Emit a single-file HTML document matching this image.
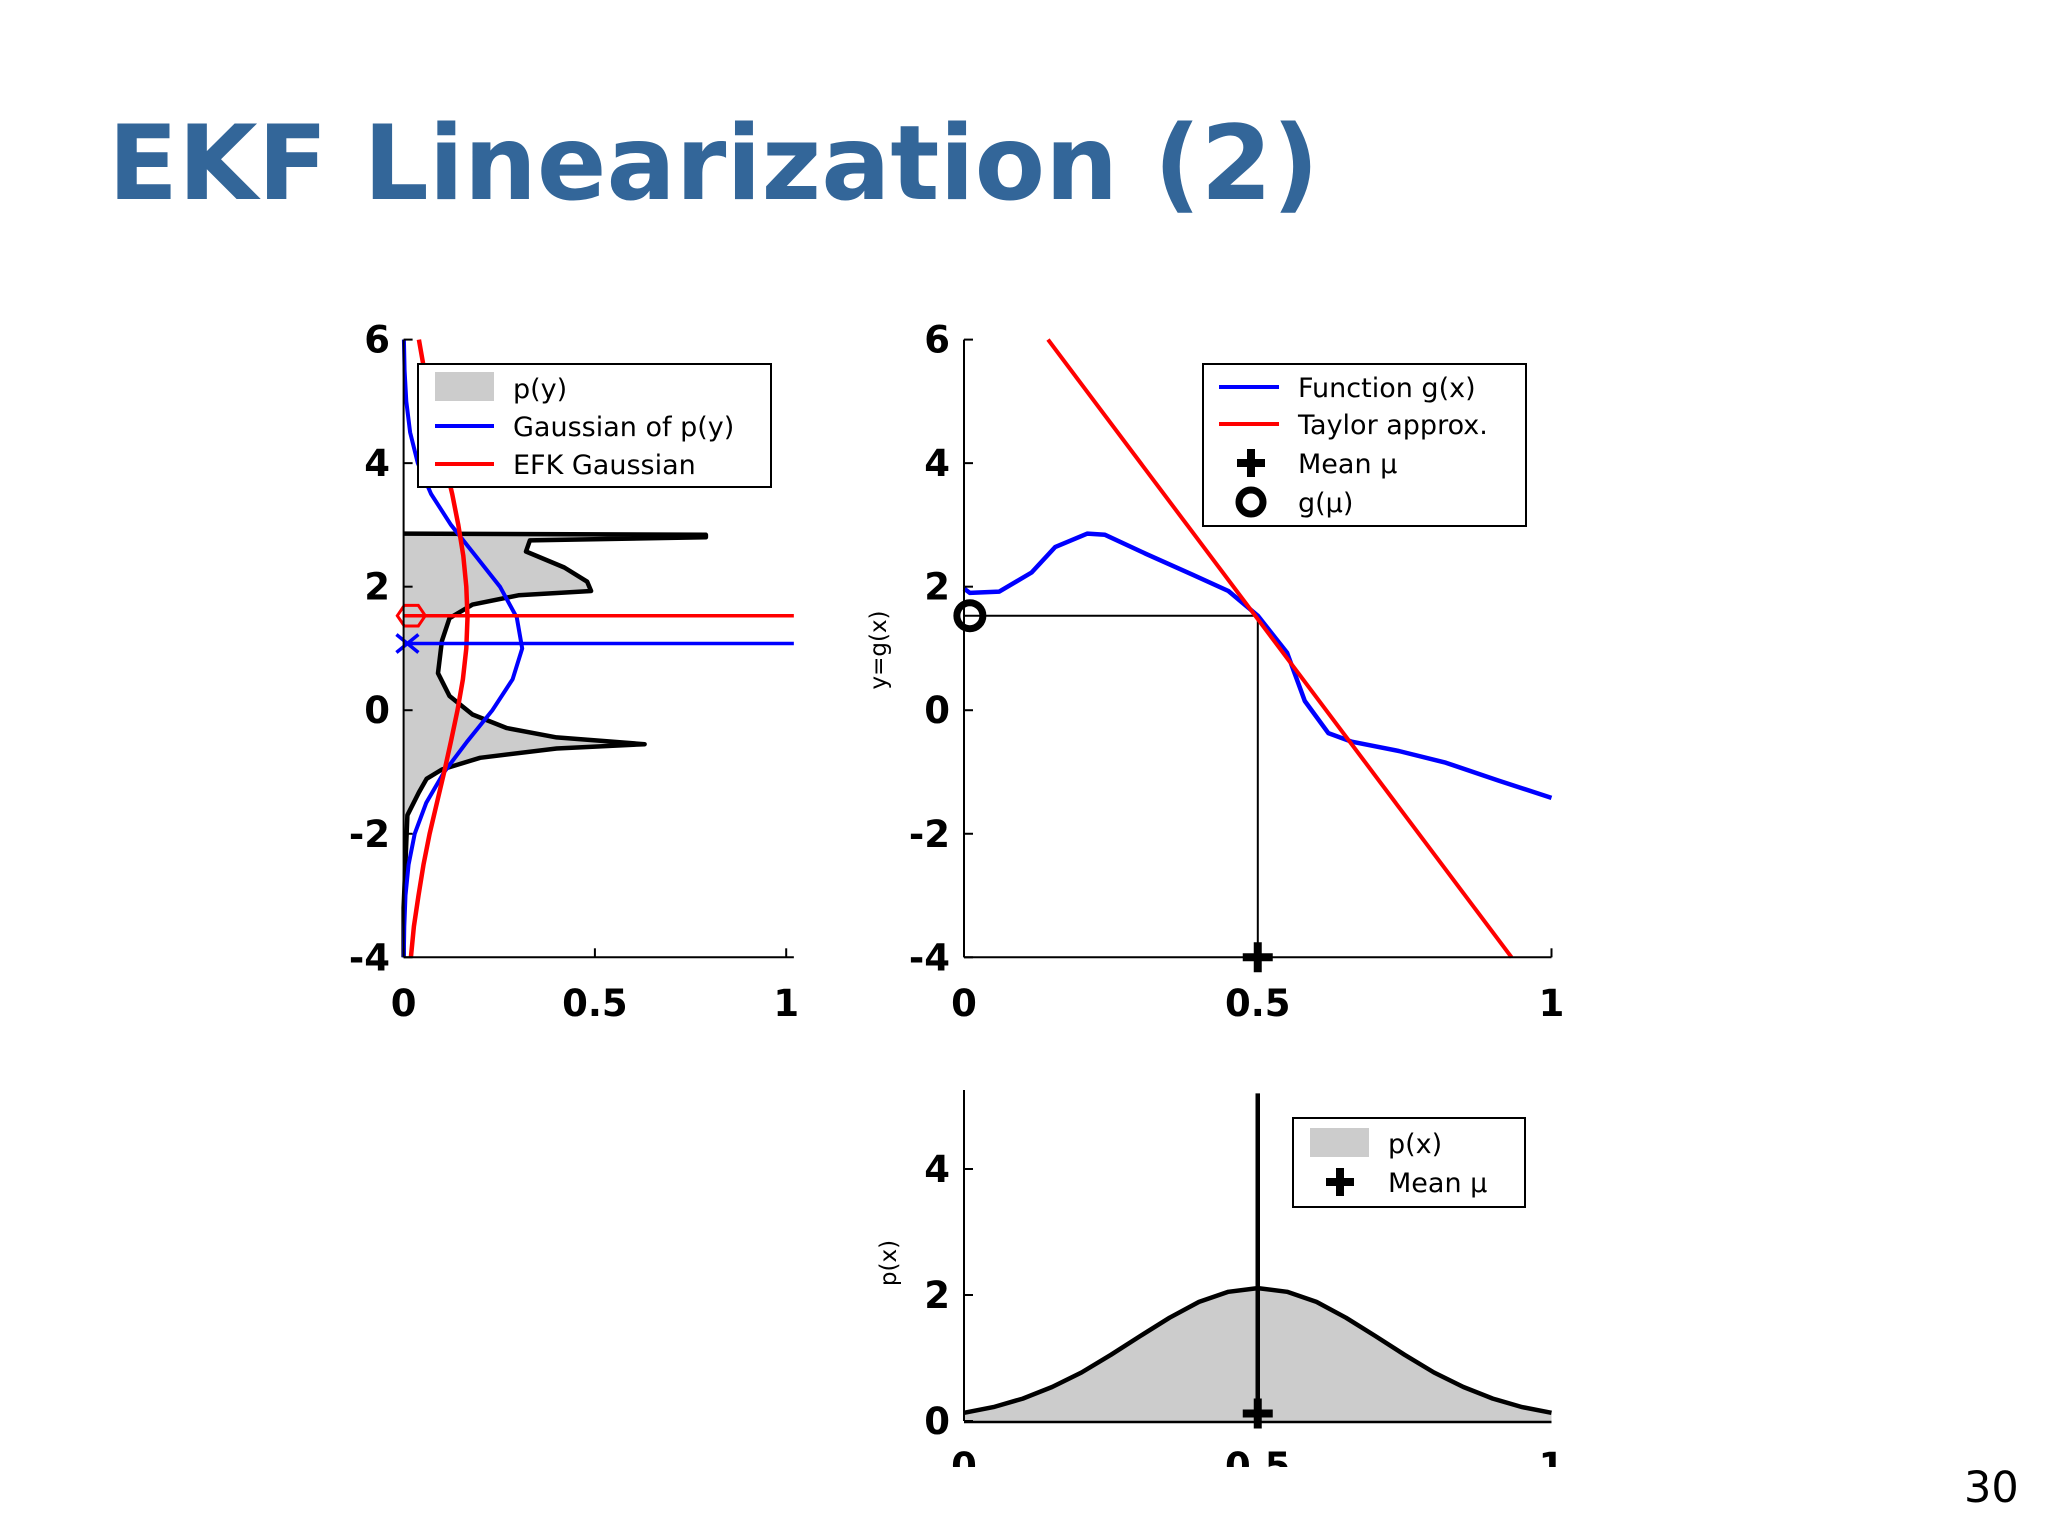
<!DOCTYPE html>
<html><head><meta charset="utf-8"><style>
html,body{margin:0;padding:0;background:#fff;}
svg{display:block;}
text{font-family:"DejaVu Sans",sans-serif;}
.tick{font-weight:bold;font-size:37px;fill:#000;}
.leg{font-size:27px;fill:#000;}
</style></head><body>
<svg id="s" width="2048" height="1536" viewBox="0 0 2048 1536" xmlns="http://www.w3.org/2000/svg">
<text x="108" y="199" textLength="1211" lengthAdjust="spacingAndGlyphs" style="font-family:'DejaVu Sans',sans-serif;font-weight:bold;font-size:103px;fill:#336699">EKF Linearization (2)</text>
<text x="1964" y="1502" style="font-family:'DejaVu Sans',sans-serif;font-size:43px;fill:#000">30</text>
<defs><clipPath id="botclip"><rect x="0" y="0" width="2048" height="1467"/></clipPath></defs>
<g id="left"></g>
<g id="mid"></g>
<g id="bot" clip-path="url(#botclip)"></g>
</svg>
<script>
// ---- left chart data (p(y) as function of y) ----
const pyY = [-4,-3.2,-1.7,-1.33,-1.11,-0.96,-0.77,-0.62,-0.55,-0.44,-0.29,-0.07,0.23,0.6,1.12,1.49,1.71,1.86,1.93,2.08,2.31,2.57,2.75,2.8,2.84,2.86];
const pyV = [0,0,0.01,0.04,0.06,0.1,0.2,0.4,0.63,0.4,0.27,0.18,0.12,0.09,0.1,0.12,0.18,0.3,0.49,0.48,0.42,0.32,0.33,0.79,0.79,0];
const gaussY = [-4,-3.5,-3,-2.5,-2,-1.5,-1,-0.5,0,0.5,1,1.5,2,2.5,3,3.5,4,4.5,5,5.5,6];
const gaussBlue = [0.0005,0.0017,0.005,0.013,0.029,0.059,0.106,0.167,0.232,0.285,0.31,0.296,0.252,0.188,0.124,0.072,0.037,0.017,0.007,0.0025,0.0007];
const gaussRed = [0.019,0.027,0.039,0.052,0.068,0.087,0.106,0.124,0.141,0.155,0.164,0.167,0.164,0.156,0.143,0.127,0.108,0.089,0.071,0.054,0.04];
const blueMean = 1.08, redMean = 1.53;
const leftXTicks = [0,0.5,1], leftXTickLabels = ["0","0.5","1"];
const yTicks = [-4,-2,0,2,4,6], yTickLabels = ["-4","-2","0","2","4","6"];
// ---- middle chart data ----
const gX = [0,0.01,0.06,0.115,0.155,0.21,0.24,0.31,0.39,0.45,0.5,0.55,0.58,0.62,0.66,0.74,0.82,0.91,1];
const gY = [1.97,1.9,1.92,2.23,2.64,2.86,2.84,2.53,2.19,1.93,1.53,0.93,0.15,-0.37,-0.51,-0.66,-0.85,-1.14,-1.42];
const taylorX = [0.143,0.932], taylorY = [6,-4];
const mu = 0.5, gmu = 1.53;
const midXTicks = [0,0.5,1], midXTickLabels = ["0","0.5","1"];
// ---- bottom chart data ----
const pxX = [0,0.05,0.1,0.15,0.2,0.25,0.3,0.35,0.4,0.45,0.5,0.55,0.6,0.65,0.7,0.75,0.8,0.85,0.9,0.95,1];
const pxV = [0.13,0.22,0.355,0.54,0.77,1.05,1.35,1.64,1.89,2.05,2.11,2.05,1.89,1.64,1.35,1.05,0.77,0.54,0.355,0.22,0.13];
const botYTicks = [0,2,4], botYTickLabels = ["0","2","4"];

const NS="http://www.w3.org/2000/svg";
function mk(parent,tag,attrs){const e=document.createElementNS(NS,tag);for(const k in attrs)e.setAttribute(k,attrs[k]);parent.appendChild(e);return e;}
function poly(pts){return pts.map(p=>p[0].toFixed(1)+","+p[1].toFixed(1)).join(" ");}
const Ytop=339.6, Yunit=61.77;
function plus(g,x,y,a,w){return mk(g,'path',{d:`M${x-a},${y}H${x+a}M${x},${y-a}V${y+a}`,stroke:'#000','stroke-width':w});}

// ===== LEFT =====
(function(){
const g=document.getElementById('left');
const X=v=>403.6+v*382.6, Y=v=>Ytop+(6-v)*Yunit;
let pts=pyY.map((y,i)=>[X(pyV[i]),Y(y)]);
let area=mk(g,'polygon',{points:poly([[X(0),Y(-4)],...pts,[X(0),Y(2.86)]]),fill:'#cccccc',stroke:'none'});


let cur=mk(g,'polyline',{points:poly(pts),fill:'none',stroke:'#000','stroke-width':4.5,'stroke-linejoin':'round'});


let bl=mk(g,'polyline',{points:poly(gaussY.map((y,i)=>[X(gaussBlue[i]),Y(y)])),fill:'none',stroke:'#0000ff','stroke-width':4});


let rd=mk(g,'polyline',{points:poly(gaussY.map((y,i)=>[X(gaussRed[i]),Y(y)])),fill:'none',stroke:'#ff0000','stroke-width':4.5});


let rl=mk(g,'line',{x1:X(0),y1:Y(redMean),x2:X(1.02),y2:Y(redMean),stroke:'#ff0000','stroke-width':3.5});


let bll=mk(g,'line',{x1:X(0),y1:Y(blueMean),x2:X(1.02),y2:Y(blueMean),stroke:'#0000ff','stroke-width':3.5});


const cx=X(0.02),cy=Y(redMean),r=14;
let hp=[];for(let k=0;k<6;k++){const a=Math.PI/3*k;hp.push([cx+r*Math.cos(a),cy+r*0.85*Math.sin(a)]);}
let hx=mk(g,'polygon',{points:poly(hp),fill:'none',stroke:'#ff0000','stroke-width':3});


const bx=X(0.01),by=Y(blueMean);
let xm=mk(g,'path',{d:`M${bx-11},${by-9}L${bx+11},${by+9}M${bx-11},${by+9}L${bx+11},${by-9}`,stroke:'#0000ff','stroke-width':3.5});


let ya=mk(g,'line',{x1:X(0),y1:Y(6),x2:X(0),y2:Y(-4),stroke:'#000','stroke-width':2});


let xa=mk(g,'line',{x1:X(0),y1:Y(-4),x2:X(1.02),y2:Y(-4),stroke:'#000','stroke-width':2});


yTicks.forEach((t,i)=>{mk(g,'line',{x1:X(0),y1:Y(t),x2:X(0)+9,y2:Y(t),stroke:'#000','stroke-width':2});
 let tx=mk(g,'text',{x:390,y:Y(t)+13,'text-anchor':'end',class:'tick'});tx.textContent=yTickLabels[i];
 
 });
leftXTicks.forEach((t,i)=>{mk(g,'line',{x1:X(t),y1:Y(-4),x2:X(t),y2:Y(-4)-9,stroke:'#000','stroke-width':2});
 let tx=mk(g,'text',{x:X(t),y:1016,'text-anchor':'middle',class:'tick'});tx.textContent=leftXTickLabels[i];
 
 });
let lg=mk(g,'g',{});


mk(lg,'rect',{x:418,y:364,width:353,height:123,fill:'#fff',stroke:'#000','stroke-width':2});
mk(lg,'rect',{x:435,y:372,width:59,height:29,fill:'#cccccc'});
mk(lg,'line',{x1:435,y1:426,x2:494,y2:426,stroke:'#0000ff','stroke-width':4});
mk(lg,'line',{x1:435,y1:464,x2:494,y2:464,stroke:'#ff0000','stroke-width':4});
[["p(y)",388],["Gaussian of p(y)",426],["EFK Gaussian",464]].forEach(([s,y])=>{let t=mk(lg,'text',{x:513,y:y+10,class:'leg'});t.textContent=s;
 
 });
})();

// ===== MIDDLE =====
(function(){
const g=document.getElementById('mid');
const X=v=>964+v*587.5, Y=v=>Ytop+(6-v)*Yunit;
let ln1=mk(g,'polyline',{points:poly([[X(0),Y(gmu)],[X(mu),Y(gmu)],[X(mu),Y(-4)]]),fill:'none',stroke:'#000','stroke-width':2});


let gl=mk(g,'polyline',{points:poly(gX.map((x,i)=>[X(x),Y(gY[i])])),fill:'none',stroke:'#0000ff','stroke-width':4.5,'stroke-linejoin':'round'});


let tl=mk(g,'line',{x1:X(taylorX[0]),y1:Y(taylorY[0]),x2:X(taylorX[1]),y2:Y(taylorY[1]),stroke:'#ff0000','stroke-width':4});


let om=mk(g,'circle',{cx:X(0.01),cy:Y(gmu),r:13,fill:'none',stroke:'#000','stroke-width':7});


let pm=plus(g,X(mu),Y(-4),15,8);


let ya=mk(g,'line',{x1:X(0),y1:Y(6),x2:X(0),y2:Y(-4),stroke:'#000','stroke-width':2});


let xa=mk(g,'line',{x1:X(0),y1:Y(-4),x2:X(1),y2:Y(-4),stroke:'#000','stroke-width':2});


yTicks.forEach((t,i)=>{mk(g,'line',{x1:X(0),y1:Y(t),x2:X(0)+9,y2:Y(t),stroke:'#000','stroke-width':2});
 let tx=mk(g,'text',{x:950,y:Y(t)+13,'text-anchor':'end',class:'tick'});tx.textContent=yTickLabels[i];
 
 });
midXTicks.forEach((t,i)=>{mk(g,'line',{x1:X(t),y1:Y(-4),x2:X(t),y2:Y(-4)-9,stroke:'#000','stroke-width':2});
 let tx=mk(g,'text',{x:X(t),y:1016,'text-anchor':'middle',class:'tick'});tx.textContent=midXTickLabels[i];
 
 });
let yt=mk(g,'text',{x:0,y:0,transform:'translate(886,650) rotate(-90)','text-anchor':'middle',style:'font-size:23px'});
yt.textContent='y=g(x)';


let lg=mk(g,'g',{});


mk(lg,'rect',{x:1203,y:364,width:323,height:162,fill:'#fff',stroke:'#000','stroke-width':2});
mk(lg,'line',{x1:1219,y1:387,x2:1279,y2:387,stroke:'#0000ff','stroke-width':4});
mk(lg,'line',{x1:1219,y1:424,x2:1279,y2:424,stroke:'#ff0000','stroke-width':4});
plus(lg,1251,463,14,8);
mk(lg,'circle',{cx:1251,cy:502,r:12,fill:'none',stroke:'#000','stroke-width':7});
[["Function g(x)",387],["Taylor approx.",424],["Mean \u03bc",463],["g(\u03bc)",502]].forEach(([s,y])=>{let t=mk(lg,'text',{x:1298,y:y+10,class:'leg'});t.textContent=s;
 
 });
})();

// ===== BOTTOM =====
(function(){
const g=document.getElementById('bot');
const X=v=>964+v*587.5, Y=v=>1421-v*63;
let pts=pxX.map((x,i)=>[X(x),Y(pxV[i])]);
let ar=mk(g,'polygon',{points:poly([[X(0),Y(0)],...pts,[X(1),Y(0)]]),fill:'#cccccc'});


let cv=mk(g,'polyline',{points:poly(pts),fill:'none',stroke:'#000','stroke-width':4.5,'stroke-linejoin':'round'});


let vl=mk(g,'line',{x1:X(mu),y1:Y(5.2),x2:X(mu),y2:Y(-0.12),stroke:'#000','stroke-width':4.5});


let pm=plus(g,X(mu),Y(0.12),15,8);


let ya=mk(g,'line',{x1:X(0),y1:1090,x2:X(0),y2:Y(0),stroke:'#000','stroke-width':2});


let xa=mk(g,'line',{x1:X(0),y1:Y(0)+1,x2:X(1),y2:Y(0)+1,stroke:'#000','stroke-width':2.5});


botYTicks.forEach((t,i)=>{mk(g,'line',{x1:X(0),y1:Y(t),x2:X(0)+9,y2:Y(t),stroke:'#000','stroke-width':2});
 let tx=mk(g,'text',{x:950,y:Y(t)+13,'text-anchor':'end',class:'tick'});tx.textContent=botYTickLabels[i];
 
 });
midXTicks.forEach((t,i)=>{let tx=mk(g,'text',{x:X(t),y:1479,'text-anchor':'middle',class:'tick'});tx.textContent=midXTickLabels[i];
 
 });
let yt=mk(g,'text',{x:0,y:0,transform:'translate(896,1263) rotate(-90)','text-anchor':'middle',style:'font-size:23px'});
yt.textContent='p(x)';


let lg=mk(g,'g',{});


mk(lg,'rect',{x:1293,y:1118,width:232,height:89,fill:'#fff',stroke:'#000','stroke-width':2});
mk(lg,'rect',{x:1310,y:1128,width:59,height:29,fill:'#cccccc'});
plus(lg,1340,1182,14,8);
[["p(x)",1143],["Mean \u03bc",1182]].forEach(([s,y])=>{let t=mk(lg,'text',{x:1388,y:y+10,class:'leg'});t.textContent=s;
 
 });
})();
</script>
</body></html>
